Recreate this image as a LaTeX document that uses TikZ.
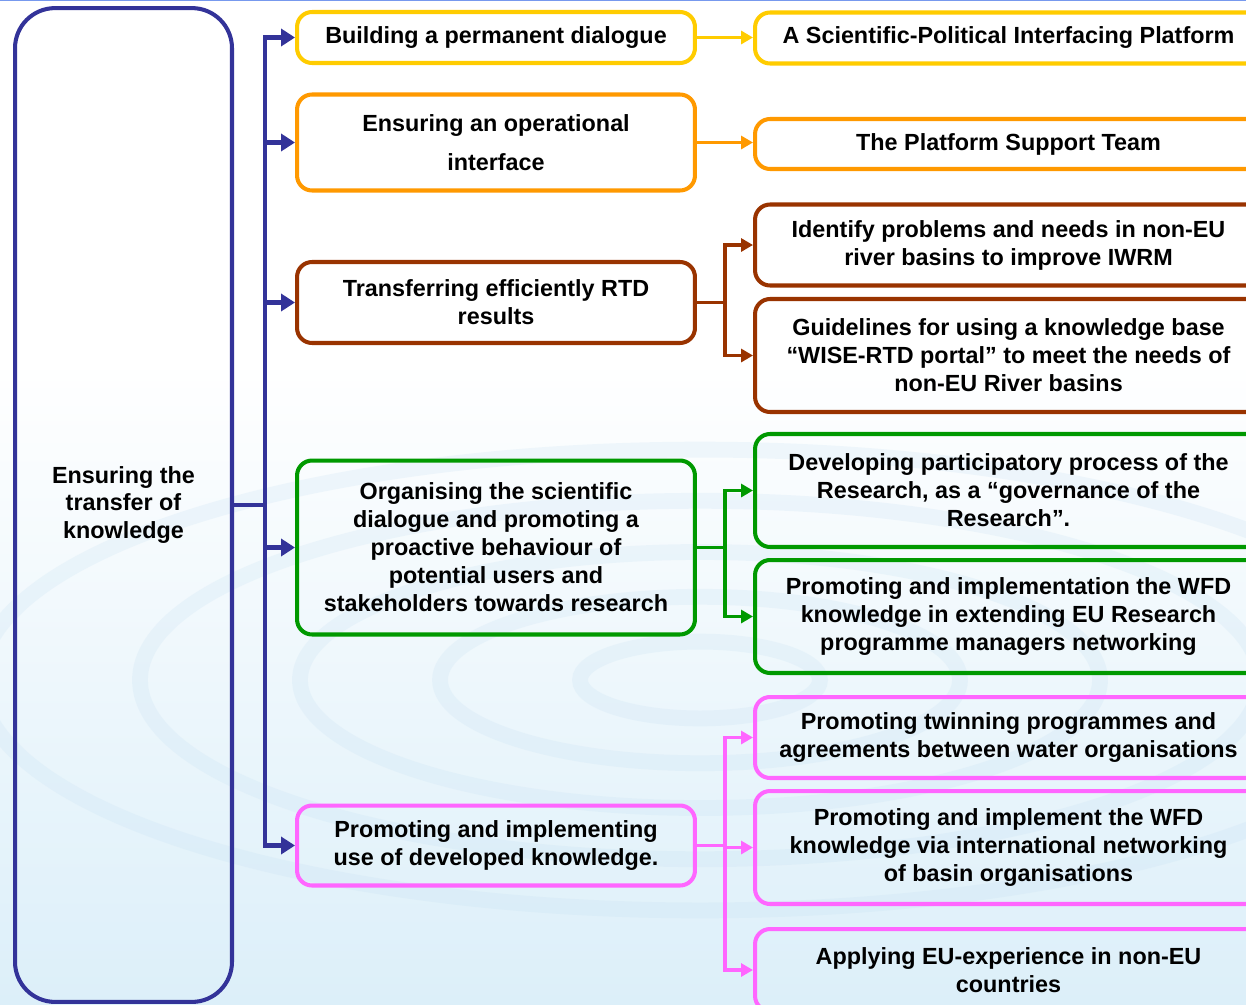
\documentclass[tikz,border=0pt]{standalone}
\usepackage{fontspec}
\setmainfont{Liberation Sans}
\usetikzlibrary{arrows.meta,positioning,calc}
\definecolor{kblue}{HTML}{333399}
\definecolor{kyellow}{HTML}{FFCC00}
\definecolor{korange}{HTML}{FF9900}
\definecolor{kbrown}{HTML}{993300}
\definecolor{kgreen}{HTML}{009900}
\definecolor{kpink}{HTML}{FF66FF}
\definecolor{waterblue}{HTML}{DCEFF9}
\definecolor{ripple}{HTML}{C4DFF2}
\definecolor{topline}{HTML}{7799EE}

\begin{document}
\begin{tikzpicture}[
  x=0.02cm,y=-0.02cm,
  font=\bfseries\fontsize{13.3}{15.9}\selectfont,
  box/.style={draw=#1,line width=2.3pt,rounded corners=0.3cm,
              align=center,inner sep=0pt},
  mid/.style={box=#1,minimum width=7.96cm},
  res/.style={box=#1,minimum width=10.14cm},
  link/.style={draw=#1,line width=2.1pt},
  arr/.style={link=#1,-{Triangle[length=0.24cm,width=0.26cm]}},
  trunkline/.style={draw=kblue,line width=2.8pt},
  trunkarr/.style={trunkline,-{Triangle[length=0.28cm,width=0.34cm]}}
]
  \useasboundingbox (0,0) rectangle (1246,1004);
  \clip (0,0) rectangle (1246,1004);
  \fill[white] (0,0) rectangle (1246,1004);
  \shade[top color=white,bottom color=waterblue] (0,360) rectangle (1246,1004);
  \foreach \r in {120,260,400,560,720}{
    \draw[ripple,line width=9pt,opacity=0.22] (700,680) ellipse [x radius=\r,y radius=0.32*\r];
  }
  \draw[topline,line width=1pt] (0,0.5) -- (1246,0.5);

  \node[box=kblue,rounded corners=0.8cm,minimum width=4.34cm,minimum height=19.88cm]
    (src) at (123.5,505) {Ensuring the\\transfer of\\knowledge};

  \node[mid=kyellow,minimum height=1.02cm] (m1) at (496,37.5) {Building a permanent dialogue};
  \node[mid=korange,minimum height=1.92cm] (m2) at (496,142.5)
    {Ensuring an operational\\[6.1pt]interface};
  \node[mid=kbrown,minimum height=1.62cm] (m3) at (496,302.5)
    {Transferring efficiently RTD\\results};
  \node[mid=kgreen,minimum height=3.48cm] (m4) at (496,547.5)
    {Organising the scientific\\dialogue and promoting a\\proactive behaviour of\\potential users and\\stakeholders towards research};
  \node[mid=kpink,minimum height=1.6cm] (m5) at (496,845.5)
    {Promoting and implementing\\use of developed knowledge.};

  \node[res=kyellow,minimum height=1.02cm] (r1) at (1008.5,38)
    {A Scientific-Political Interfacing Platform};
  \node[res=korange,minimum height=1.0cm] (r2) at (1008.5,144)
    {The Platform Support Team};
  \node[res=kbrown,minimum height=1.62cm] (r3a) at (1008.5,245)
    {Identify problems and needs in non-EU\\river basins to improve IWRM};
  \node[res=kbrown,minimum height=2.26cm] (r3b) at (1008.5,355.5)
    {Guidelines for using a knowledge base\\“WISE-RTD portal” to meet the needs of\\non-EU River basins};
  \node[res=kgreen,minimum height=2.26cm] (r4a) at (1008.5,490.5)
    {Developing participatory process of the\\Research, as a “governance of the\\Research”.};
  \node[res=kgreen,minimum height=2.26cm] (r4b) at (1008.5,616.5)
    {Promoting and implementation the WFD\\knowledge in extending EU Research\\programme managers networking};
  \node[res=kpink,minimum height=1.62cm] (r5a) at (1008.5,737.5)
    {Promoting twinning programmes and\\agreements between water organisations};
  \node[res=kpink,minimum height=2.26cm] (r5b) at (1008.5,847.5)
    {Promoting and implement the WFD\\knowledge via international networking\\of basin organisations};
  \node[res=kpink,minimum height=1.64cm] (r5c) at (1008.5,970)
    {Applying EU-experience in non-EU\\countries};

  \coordinate (trunk) at (265,505);
  \draw[trunkline] (src.east) -- (src.east-|trunk);
  \draw[trunkline,line cap=rect] (trunk|-m1.west) -- (trunk|-m5.west);
  \foreach \m in {m1,m2,m3,m4,m5}{
    \draw[trunkarr] (trunk|-\m.west) -- (\m.west);
  }

  \draw[arr=kyellow] (m1.east) -- (m1.east-|r1.west);
  \draw[arr=korange] (m2.east) -- (m2.east-|r2.west);

  \coordinate (fork) at (725,0);
  \foreach \c/\m/\a/\b in {kbrown/m3/r3a/r3b,kgreen/m4/r4a/r4b,kpink/m5/r5a/r5c}{
    \draw[link=\c] (\m.east) -- (\m.east-|fork);
    \draw[link=\c,line cap=rect] (fork|-\a.west) -- (fork|-\b.west);
  }
  \foreach \c/\r in {kbrown/r3a,kbrown/r3b,kgreen/r4a,kgreen/r4b,
                     kpink/r5a,kpink/r5b,kpink/r5c}{
    \draw[arr=\c] (fork|-\r.west) -- (\r.west);
  }
\end{tikzpicture}
\end{document}
